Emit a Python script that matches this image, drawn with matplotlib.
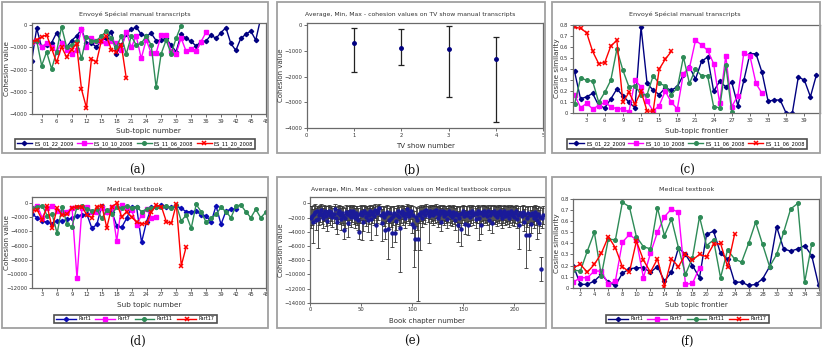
import matplotlib
matplotlib.use('Agg')
import matplotlib.pyplot as plt
from matplotlib.patches import Rectangle

# ---------------- data ----------------
# (a) Envoyé Spécial manual transcripts - cohesion value per sub-topic
a_labels = ['ES_01_22_2009', 'ES_10_10_2008', 'ES_11_06_2008', 'ES_11_20_2008']
a_es0122 = [-1600, -150, -1000, -900, -800, -350, -800, -1000, -700, -500, -200, -800, -800, -1000,
            -700, -600, -300, -1300, -900, -400, -200, -100, -420, -500, -380, -700, -680, -600, -900,
            -1200, -420, -600, -730, -940, -760, -730, -450, -600, -350, -120, -830, -1140, -600, -420,
            -270, -680, 300]
a_es1010 = [-770, -700, -1000, -800, -1000, -1200, -800, -1100, -1300, -1100, -200, -1000, -600, -700,
            -700, -800, -700, -800, -1100, -300, -1000, -500, -1500, -660, -1260, -1260, -450, -450,
            -1180, -1290, -580, -1170, -1090, -1180, -760, -330]
a_es1106 = [-750, -700, -1820, -1210, -1970, -1200, -75, -980, -900, -700, -1500, -530, -700, -700,
            -500, -270, -600, -1000, -500, -1300, -500, -900, -830, -500, -900, -2800, -1290, -680,
            -1290, -600, -30]
a_es1120 = [-760, -680, -530, -450, -1060, -1670, -980, -1440, -1100, -850, -2880, -3710, -1520, -1670,
            -700, -500, -1100, -1200, -900, -2390]

# (b) Average, Min, Max per TV show
b_show = [1, 2, 3, 4]
b_mean = [-695, -887, -952, -1338]
b_min = [-1813, -1556, -2804, -3756]
b_max = [-141, -180, -51, -489]

# (c) Envoyé Spécial - cosine similarity per sub-topic frontier
c_labels = ['ES_01_22_2009', 'ES_10_10_2008', 'ES_11_06_2008', 'ES_11_06_2008']
c_es0122 = [0.38, 0.13, 0.15, 0.18, 0.07, 0.05, 0.13, 0.22, 0.16, 0.10, 0.05, 0.78, 0.27, 0.21, 0.17,
            0.23, 0.21, 0.24, 0.35, 0.42, 0.31, 0.47, 0.51, 0.20, 0.29, 0.24, 0.28, 0.07, 0.30, 0.54,
            0.54, 0.37, 0.11, 0.12, 0.12, 0.0, 0.0, 0.33, 0.30, 0.15, 0.35]
c_es1010 = [0.17, 0.05, 0.09, 0.04, 0.07, 0.10, 0.06, 0.04, 0.04, 0.01, 0.30, 0.24, 0.11, 0.02, 0.07,
            0.20, 0.10, 0.04, 0.36, 0.41, 0.66, 0.62, 0.57, 0.45, 0.09, 0.52, 0.06, 0.16, 0.55, 0.52,
            0.27, 0.18]
c_es1106 = [0.08, 0.32, 0.30, 0.29, 0.10, 0.19, 0.30, 0.58, 0.39, 0.24, 0.25, 0.17, 0.17, 0.34, 0.27,
            0.25, 0.17, 0.23, 0.51, 0.27, 0.40, 0.34, 0.34, 0.06, 0.05, 0.44, 0.01]
c_es1106b = [0.78, 0.77, 0.73, 0.56, 0.45, 0.46, 0.61, 0.66, 0.10, 0.19, 0.08, 0.20, 0.02, 0.02, 0.40,
             0.49, 0.56]

# (d) Medical textbook - cohesion value per sub-topic
d_labels = ['Part1', 'Part7', 'Part11', 'Part17']
d_part1 = [-1560, -2040, -2460, -2700, -2890, -2460, -2510, -2270, -2130, -1750, -1660, -1560, -3550,
           -2990, -330, -1180, -1180, -3180, -3410, -2130, -520, -520, -5540, -2610, -520, -570, -240,
           -470, -570, -380, -710, -1180, -1180, -1090, -1660, -1750, -2700, -330, -2990, -1090, -850,
           -800]
d_part7 = [-710, -330, -2040, -620, -330, -1090, -1280, -1180, -620, -10660, -620, -470, -1180, -1280,
           -710, -1280, -470, -5360, -240, -710, -950, -3080, -1660, -800, -2040, -1900]
d_part11 = [-710, -470, -330, -1750, -1560, -4270, -470, -2990, -3320, -470, -330, -800, -1090, -850,
            -2130, -950, -1560, -570, -710, -330, -620, -470, -1180, -800, -620, -570, -570, -380, -620,
            -240, -2510, -1660, -3550, -140, -1180, -2700, -2130, -1560, -570, -1180, -2040, -380, -240,
            -1180, -2040, -850, -2040, -1280]
d_part17 = [-1090, -950, -2370, -380, -3550, -710, -1660, -1560, -620, -470, -470, -1660, -2040, -470,
            -330, -3460, -470, 0, -1900, -1180, -1990, -2610, -2940, -2840, -1180, -240, -470, -2610,
            -2840, -140, -8860, -6160]

# (e) Average, Min, Max per book chapter (Medical textbook corpus)
e_mean = [-2000, -1800, -2600, -1500, -1200, -2300, -1000, -2200, -1700, -1400, -900, -1600, -2100, -1300, -1100, -1800, -2500, -1400, -1000, -1700,
          -1200, -1900, -1500, -800, -2100, -2600, -1300, -1000, -1600, -2200, -1400, -1800, -3700, -2000, -1200, -1500, -2800, -1700, -1100, -1900,
          -1300, -1000, -1600, -2100, -1400, -1800, -2300, -4000, -1500, -1200, -1700, -2600, -1100, -1400, -1900, -1300, -2400, -1600, -1000, -2200,
          -1500, -1200, -1800, -900, -3100, -1400, -1100, -700, -1600, -2700, -1300, -1900, -3700, -1500, -1200, -3600, -2300, -1400, -2000, -4100,
          -1800, -1300, -4200, -2500, -1600, -1100, -1900, -3400, -1400, -1000, -1700, -1300, -2100, -1500, -800, -1200, -1800, -1400, -1000, -2900,
          -1600, -3300, -5000, -1900, -2400, -5000, -1500, -1700, -1200, -2000, -1400, -1100, -1600, -900, -1300, -1800, -1000, -1500, -1200, -1700,
          -1100, -1400, -900, -1300, -2000, -1600, -1000, -2600, -1400, -1100, -1800, -1200, -1500, -2200, -1300, -1000, -1700, -1400, -1900, -1200,
          -1600, -2400, -1300, -1700, -3100, -2000, -1500, -3600, -1400, -1100, -1800, -2900, -1300, -1600, -3100, -1200, -1900, -1400, -1000, -1700,
          -1300, -2200, -1500, -1100, -2000, -1400, -3000, -1200, -1700, -1000, -1500, -1300, -1800, -1100, -2400, -1600, -1200, -2800, -1400, -1000,
          -1600, -1300, -1900, -1200, -1500, -1000, -1700, -2100, -1400, -1100, -1800, -1300, -1600, -1200, -2000, -1500, -1000, -1700, -1300, -1900,
          -1400, -1100, -2200, -1600, -3100, -1300, -1800, -1200, -2600, -1500, -4500, -2000, -1400, -4500, -1700, -2900, -1300, -1600, -2100, -1200,
          -1800, -2300, -1500, -2800, -1900, -9300, -2000, -1600]
e_min = [-3500, -3000, -5600, -2800, -2500, -3800, -2200, -6300, -3000, -2600, -2000, -2900, -3400, -2500, -2300, -3200, -3900, -2700, -2100, -3000,
         -2500, -3300, -2800, -1900, -3600, -4300, -2600, -2200, -2900, -3700, -2700, -3100, -5000, -3400, -2400, -2800, -4800, -3000, -2300, -3300,
         -2600, -2100, -2900, -3500, -2700, -3100, -3700, -5000, -2800, -2400, -5200, -3900, -2300, -2700, -3200, -2500, -4000, -2900, -2200, -5200,
         -2800, -2400, -3100, -2000, -4400, -2700, -2300, -1800, -2900, -5300, -2600, -3200, -5000, -2800, -2500, -7800, -3600, -2700, -3300, -6200,
         -3100, -2600, -5400, -3800, -2900, -2300, -3200, -9600, -2700, -2200, -3000, -2600, -3400, -2800, -1900, -2500, -3100, -2700, -2200, -4200,
         -2900, -8900, -6500, -3200, -3700, -13700, -2800, -6600, -2500, -3300, -2700, -2300, -2900, -2000, -2600, -5600, -2200, -2800, -2500, -3000,
         -2400, -2700, -2100, -2600, -3300, -2900, -2300, -3900, -2700, -2400, -3100, -2500, -2800, -3500, -2600, -2200, -3000, -2700, -3200, -2500,
         -2900, -3700, -2600, -3000, -5400, -3300, -2800, -6000, -2700, -2400, -3100, -4300, -2600, -2900, -4400, -2500, -3200, -2700, -2300, -3000,
         -2600, -3500, -2800, -2400, -5100, -2700, -4300, -2500, -3000, -2300, -2800, -2600, -3100, -2400, -3700, -2900, -2500, -4100, -2700, -2300,
         -2900, -2600, -3200, -2500, -2800, -2300, -3000, -3400, -2700, -2400, -3100, -2600, -2900, -2500, -3300, -2800, -2300, -3000, -2600, -3200,
         -2700, -2400, -3500, -2900, -6400, -2600, -3100, -2500, -3900, -2800, -9100, -3300, -2700, -6600, -3000, -4200, -2600, -2900, -3400, -2500,
         -3100, -5000, -2800, -4100, -3200, -10900, -3500, -2900]
e_max = [-400, -300, -800, -200, -100, -600, -300, -500, -400, -200, -100, -300, -700, -200, -300, -400, -900, -300, -200, -500,
         -300, -600, -400, -100, -500, -800, -300, -200, -400, -700, -300, -500, -1500, -600, -200, -400, -900, -300, -200, -500,
         -300, -200, -400, -600, -300, -400, -700, -2000, -300, -200, -400, -800, -200, -300, -500, -300, -700, -400, -200, -600,
         -300, -200, -500, -100, -1000, -300, -200, -100, -400, -800, -300, -500, -1600, -300, -200, -1200, -600, -300, -500, -1500,
         -400, -300, -1700, -700, -400, -200, -500, -1000, -300, -200, -400, -300, -600, -300, -100, -200, -500, -300, -200, -900,
         -400, -1000, -1800, -500, -700, -1500, -300, -500, -200, -500, -300, -200, -400, -100, -300, -500, -200, -300, -200, -400,
         -200, -300, -100, -300, -500, -400, -200, -700, -300, -200, -400, -300, -300, -600, -300, -200, -400, -300, -500, -200,
         -400, -600, -300, -400, -1000, -500, -300, -1200, -300, -200, -400, -900, -300, -400, -1000, -200, -500, -300, -200, -400,
         -300, -600, -300, -200, -500, -300, -1000, -200, -400, -200, -300, -300, -500, -200, -700, -400, -200, -900, -300, -200,
         -400, -300, -500, -200, -300, -200, -400, -600, -300, -200, -400, -300, -400, -200, -500, -300, -200, -400, -300, -500,
         -300, -200, -600, -400, -1000, -300, -400, -200, -800, -300, -1800, -500, -300, -1800, -400, -900, -300, -400, -500, -200,
         -400, -700, -300, -900, -500, -7600, -600, -400]

# (f) Medical textbook - cosine similarity per sub-topic frontier
f_part1 = [0.20, 0.03, 0.03, 0.06, 0.12, 0.05, 0.02, 0.13, 0.17, 0.18, 0.18, 0.14, 0.19, 0.06, 0.14,
           0.36, 0.30, 0.20, 0.09, 0.48, 0.51, 0.31, 0.26, 0.05, 0.05, 0.02, 0.03, 0.08, 0.19, 0.55,
           0.35, 0.33, 0.35, 0.38, 0.29, 0.02]
f_part7 = [0.05, 0.09, 0.09, 0.15, 0.15, 0.03, 0.06, 0.41, 0.48, 0.43, 0.09, 0.31, 0.50, 0.64, 0.71,
           0.68, 0.03, 0.04, 0.18]
f_part11 = [0.16, 0.15, 0.33, 0.50, 0.11, 0.44, 0.43, 0.77, 0.73, 0.46, 0.37, 0.35, 0.72, 0.47, 0.62,
            0.36, 0.12, 0.27, 0.64, 0.38, 0.43, 0.09, 0.34, 0.26, 0.23, 0.40, 0.59, 0.39, 0.19, 0.30,
            0.50, 0.71, 0.76, 0.05, 0.39]
f_part17 = [0.18, 0.21, 0.14, 0.21, 0.31, 0.46, 0.36, 0.19, 0.14, 0.42, 0.25, 0.14, 0.26, 0.01, 0.26,
            0.19, 0.30, 0.25, 0.30, 0.28, 0.39, 0.40, 0.19, 0.48]

# ---------------- layout helpers ----------------
W, H = 825, 350
fig = plt.figure(figsize=(W / 100, H / 100), dpi=100)
fig.patch.set_facecolor('white')

NAVY = '#000080'
MAG = '#ff00ff'
GRN = '#2e8b57'
RED = '#ff0000'
styles = [dict(color=NAVY, marker='D', ms=2.2),
          dict(color=MAG, marker='s', ms=3.0),
          dict(color=GRN, marker='o', ms=2.6),
          dict(color=RED, marker='x', ms=3.2, mew=1.1)]


def add_ax(x0, y0, x1, y1):
    ax = fig.add_axes([x0 / W, 1 - y1 / H, (x1 - x0) / W, (y1 - y0) / H])
    for s in ax.spines.values():
        s.set_color('#6a6a6a')
        s.set_linewidth(0.9)
    ax.tick_params(labelsize=3.8, length=2, width=0.5, pad=1.2, colors='#333333')
    return ax


def frame(x0, y0, x1, y1):
    fig.patches.append(Rectangle((x0 / W, 1 - y1 / H), (x1 - x0) / W, (y1 - y0) / H,
                                 transform=fig.transFigure, fill=False,
                                 edgecolor='#a0a0a0', lw=1.3))


def ftext(x, y, s, **kw):
    kw.setdefault('color', '#333333')
    fig.text(x / W, 1 - y / H, s, ha='center', va='center', **kw)


def legend(handles, labels, cx, cy, fs, hl, cs):
    lg = fig.legend(handles, labels, loc='center', bbox_to_anchor=(cx / W, 1 - cy / H),
                    ncol=len(labels), fontsize=fs, frameon=True, fancybox=False,
                    handlelength=hl, columnspacing=cs, handletextpad=0.5,
                    borderpad=0.4, borderaxespad=0)
    lg.get_frame().set_edgecolor('#222222')
    lg.get_frame().set_linewidth(1.2)


def lines(ax, series):
    hs = []
    for i, ys in enumerate(series):
        xs = list(range(1, len(ys) + 1))
        h, = ax.plot(xs, ys, lw=1.0, **styles[i])
        hs.append(h)
    return hs


def err_lists(mean, lo, hi):
    return [[m - l for m, l in zip(mean, lo)], [h - m for m, h in zip(mean, hi)]]


# ---------------- (a) ----------------
frame(2, 2, 268, 153)
ax = add_ax(31.7, 22.7, 265.7, 114.3)
ha = lines(ax, [a_es0122, a_es1010, a_es1106, a_es1120])
ax.set_xlim(1, 48)
ax.set_ylim(-4000, 100)
ax.set_xticks(range(3, 49, 3))
ax.set_yticks([0, -1000, -2000, -3000, -4000])
ftext(135, 14.7, 'Envoyé Spécial manual transcripts', fontsize=4.6)
ftext(148, 131, 'Sub-topic number', fontsize=5.2)
ftext(7, 68, 'Cohesion value', fontsize=5.2, rotation=90)
legend(ha, a_labels, 135, 144, 3.6, 3.0, 0.6)

# ---------------- (b) ----------------
frame(277, 2, 545, 153)
ax = add_ax(306.7, 22.7, 543.3, 128.3)
ax.errorbar(b_show, b_mean, yerr=err_lists(b_mean, b_min, b_max),
            fmt='o', color=NAVY, ms=2.5, ecolor='#222222', elinewidth=0.9, capsize=2, capthick=0.9)
ax.set_xlim(0, 5)
ax.set_ylim(-4000, 80)
ax.set_xticks(range(0, 6))
ax.set_yticks([0, -1000, -2000, -3000, -4000])
ftext(410, 14.7, 'Average, Min, Max - cohesion values on TV show manual transcripts', fontsize=4.4)
ftext(425, 146, 'TV show number', fontsize=5.0)
ftext(281, 75, 'Cohesion value', fontsize=5.0, rotation=90)

# ---------------- (c) ----------------
frame(552, 2, 820, 153)
ax = add_ax(572.7, 25, 819.5, 113.3)
hc = lines(ax, [c_es0122, c_es1010, c_es1106, c_es1106b])
ax.set_xlim(0.7, 41.5)
ax.set_ylim(0, 0.8)
ax.set_xticks(range(3, 40, 3))
ax.set_yticks([0, 0.1, 0.2, 0.3, 0.4, 0.5, 0.6, 0.7, 0.8])
ax.set_yticklabels(['0', '0.1', '0.2', '0.3', '0.4', '0.5', '0.6', '0.7', '0.8'])
ftext(685, 14.7, 'Envoyé Spécial manual transcripts', fontsize=4.6)
ftext(697, 131, 'Sub-topic frontier', fontsize=5.2)
ftext(557, 68, 'Cosine similarity', fontsize=5.2, rotation=90)
legend(hc, c_labels, 687, 144, 3.6, 3.0, 0.6)

# ---------------- (d) ----------------
frame(2, 177, 268, 328)
ax = add_ax(32.3, 196.7, 265.7, 287.7)
hd = lines(ax, [d_part1, d_part7, d_part11, d_part17])
hd[0].set_color('#0a0ab4')
ax.set_xlim(1, 48)
ax.set_ylim(-12000, 950)
ax.set_xticks(range(3, 49, 3))
ax.set_yticks(list(range(0, -12001, -2000)))
ftext(135, 189.3, 'Medical textbook', fontsize=4.6)
ftext(149, 305, 'Sub topic number', fontsize=5.2)
ftext(7, 242, 'Cohesion value', fontsize=5.2, rotation=90)
legend(hd, d_labels, 135.5, 319, 3.5, 4.0, 0.9)

# ---------------- (e) ----------------
frame(277, 177, 545.7, 328)
ax = add_ax(310, 196.7, 545, 302.7)
e_x = list(range(1, len(e_mean) + 1))
ax.errorbar(e_x, e_mean, yerr=err_lists(e_mean, e_min, e_max),
            fmt='o', color='#1a1a9a', ms=2.2, ecolor='#333333', elinewidth=0.6, capsize=1.3,
            capthick=0.6, zorder=3)
ax.set_xlim(0, 230)
ax.set_ylim(-14000, 950)
ax.set_xticks([0, 50, 100, 150, 200])
ax.set_yticks(list(range(0, -14001, -2000)))
ftext(411, 189.3, 'Average, Min, Max - cohesion values on Medical textbook corpus', fontsize=4.4)
ftext(427, 320.7, 'Book chapter number', fontsize=5.0)
ftext(281, 250, 'Cohesion value', fontsize=5.0, rotation=90)

# ---------------- (f) ----------------
frame(552, 177, 820.7, 328)
ax = add_ax(573.3, 199, 818.7, 287.7)
hf = lines(ax, [f_part1, f_part7, f_part11, f_part17])
ax.set_xlim(1, 36)
ax.set_ylim(0, 0.8)
ax.set_xticks(range(2, 37, 2))
ax.set_yticks([0, 0.1, 0.2, 0.3, 0.4, 0.5, 0.6, 0.7, 0.8])
ax.set_yticklabels(['0', '0.1', '0.2', '0.3', '0.4', '0.5', '0.6', '0.7', '0.8'])
ftext(687, 189.3, 'Medical textbook', fontsize=4.6)
ftext(696, 305, 'Sub topic frontier', fontsize=5.2)
ftext(557, 243, 'Cosine similarity', fontsize=5.2, rotation=90)
legend(hf, d_labels, 687.5, 319, 3.5, 4.0, 0.9)

# ---------------- captions ----------------
for cx, cy, s in [(137, 170, '(a)'), (412, 170, '(b)'), (687, 170, '(c)'),
                  (137, 341, '(d)'), (412, 341, '(e)'), (687, 341, '(f)')]:
    fig.text(cx / W, 1 - cy / H, s, ha='center', va='center', fontsize=8.5,
             family='DejaVu Serif', color='#111111')

fig.savefig('out.png', dpi=100)
